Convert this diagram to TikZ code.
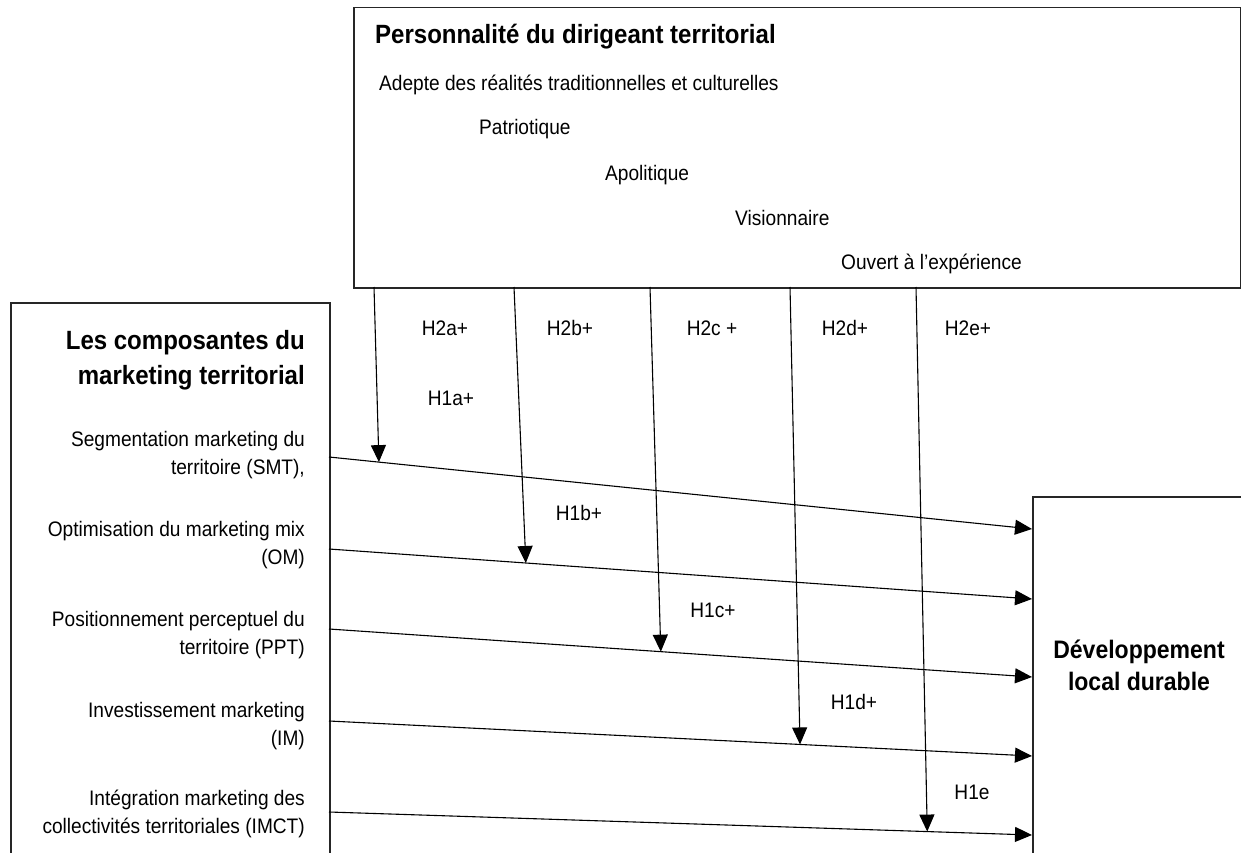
\documentclass[tikz,border=0pt]{standalone}
\usepackage{fontspec}
\setmainfont{Liberation Sans}[FakeStretch=0.91]
\usetikzlibrary{arrows.meta,positioning}

\begin{document}
\begin{tikzpicture}[x=1pt, y=-1pt, >={Triangle[length=17pt,width=15pt]},
    box/.style={draw=black!85, line width=1.5pt, rectangle, anchor=north west, inner sep=0pt},
    fl/.style={->, line width=1.1pt},
    txt/.style={font=\fontsize{21}{28}\selectfont, inner sep=0pt},
    titre/.style={font=\bfseries\fontsize{26.4}{35}\selectfont, inner sep=0pt},
    hyp/.style={font=\fontsize{21}{22}\selectfont, inner sep=0pt}]

                \useasboundingbox (0,0) rectangle (1241,853);
                \clip (0,0) rectangle (1241,853);

                % Boxes
                \node[box, minimum width=887pt, minimum height=280pt] (perso) at (353,7) {};
                \node[box, minimum width=319pt, minimum height=600pt] (compo) at (10,302) {};
                \node[box, minimum width=300pt, minimum height=450pt] (dev) at (1032,496) {};

                % Personality traits
                \node[titre, anchor=base west] (tperso) at (375,44) {Personnalité du dirigeant territorial};
                \node[txt, anchor=base west] (adepte) at (379,91) {Adepte des réalités traditionnelles et culturelles};
                \node[txt, anchor=base west] (patrio) at (479,135) {Patriotique};
                \node[txt, anchor=base west] (apol) at (605,180) {Apolitique};
                \node[txt, anchor=base west] (vision) at (735,225) {Visionnaire};
                \node[txt, anchor=base west] (ouvert) at (841,269) {Ouvert à l'expérience};

                % Marketing components (base = last line)
                \node[titre, anchor=base east, align=right] (tcompo) at (305,384) {Les composantes du\\marketing territorial};
                \node[txt, anchor=base east, align=right] (smt) at (305,474) {Segmentation marketing du\\territoire (SMT),};
                \node[txt, anchor=base east, align=right] (om) at (305,564) {Optimisation du marketing mix\\(OM)};
                \node[txt, anchor=base east, align=right] (ppt) at (305,654) {Positionnement perceptuel du\\territoire (PPT)};
                \node[txt, anchor=base east, align=right] (im) at (305,745) {Investissement marketing\\(IM)};
                \node[txt, anchor=base east, align=right] (imct) at (305,833) {Intégration marketing des\\collectivités territoriales (IMCT)};

                % Outcome
                \node[titre, font=\bfseries\fontsize{25.3}{32}\selectfont, anchor=base, align=center] (tdev) at (1139,690) {Développement\\local durable};

                % Anchor points
                \coordinate (g1) at (329,457);
                \coordinate (g2) at (329,549);
                \coordinate (g3) at (329,629);
                \coordinate (g4) at (329,721);
                \coordinate (g5) at (329,812);
                \coordinate (d1) at (1032,529);
                \coordinate (d2) at (1032,599);
                \coordinate (d3) at (1032,677);
                \coordinate (d4) at (1032,756);
                \coordinate (d5) at (1032,835);
                \coordinate (p1) at (374,287);
                \coordinate (p2) at (514,287);
                \coordinate (p3) at (650,287);
                \coordinate (p4) at (790,287);
                \coordinate (p5) at (916,287);

                % Direct effects
                \draw[fl] (g1) -- coordinate[pos=.071] (x1) (d1);
                \draw[fl] (g2) -- coordinate[pos=.280] (x2) (d2);
                \draw[fl] (g3) -- coordinate[pos=.472] (x3) (d3);
                \draw[fl] (g4) -- coordinate[pos=.670] (x4) (d4);
                \draw[fl] (g5) -- coordinate[pos=.851] (x5) (d5);

                % Moderating effects
                \draw[fl] (p1) -- (x1);
                \draw[fl] (p2) -- (x2);
                \draw[fl] (p3) -- (x3);
                \draw[fl] (p4) -- (x4);
                \draw[fl] (p5) -- (x5);

                % Hypotheses
                \node[hyp] (h2a) at (445,328) {H2a+};
                \node[hyp] (h2b) at (570,328) {H2b+};
                \node[hyp] (h2c) at (712,328) {H2c +};
                \node[hyp] (h2d) at (845,328) {H2d+};
                \node[hyp] (h2e) at (968,328) {H2e+};
                \node[hyp] (h1a) at (451,398) {H1a+};
                \node[hyp] (h1b) at (579,513) {H1b+};
                \node[hyp] (h1c) at (713,610) {H1c+};
                \node[hyp] (h1d) at (854,702) {H1d+};
                \node[hyp] (h1e) at (972,792) {H1e};

\end{tikzpicture}
\end{document}
